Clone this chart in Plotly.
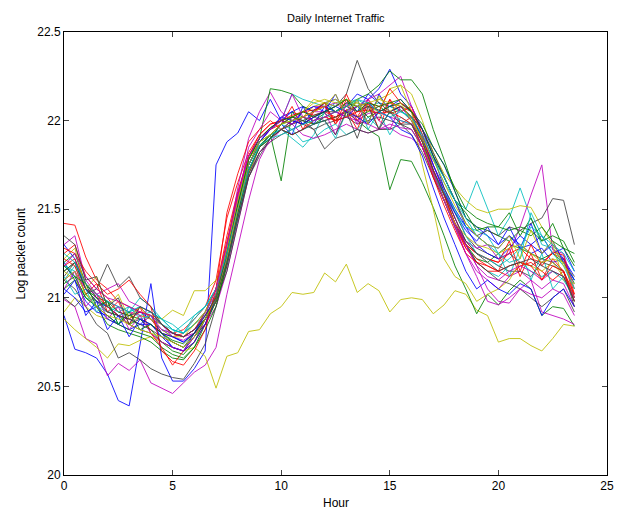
import plotly.graph_objects as go

hours = [i * 0.5 for i in range(48)]

day01 = [20.90,20.71,20.69,20.66,20.57,20.42,20.39,20.74, 21.08,20.66,20.53,20.53,20.60,20.70,21.75,21.88, 21.93,22.05,22.00,22.12,22.00,22.05,21.98,22.06, 22.10,22.08,22.12,22.05,22.15,22.10,22.08,22.12, 22.05,21.95,21.80,21.62,21.50,21.40,21.35,21.30, 21.28,21.35,21.30,21.25,21.28,21.20,21.22,21.10]
day02 = [21.20,21.25,21.08,21.00,20.95,20.90,20.85,20.88, 20.82,20.75,20.70,20.68,20.75,20.88,21.02,21.25, 21.52,21.75,21.86,21.92,21.66,22.05,22.02,22.00, 22.04,22.00,22.06,22.02,22.05,22.08,22.04,22.06, 22.00,21.88,21.70,21.58,21.42,21.30,21.22,21.20, 21.25,21.30,21.28,21.25,21.22,21.25,21.20,21.08]
day03 = [21.42,21.41,21.23,21.10,21.05,20.98,20.95,20.92, 20.90,20.85,20.80,20.82,20.88,20.95,21.10,21.45, 21.65,21.82,21.92,21.98,22.00,22.02,22.05,22.03, 22.05,22.02,22.06,22.08,22.10,22.08,22.10,22.08, 22.05,21.88,21.68,21.55,21.40,21.30,21.25,21.22, 21.20,21.25,21.28,21.22,21.20,21.25,21.22,21.00]
day04 = [21.10,21.18,21.05,20.98,20.95,20.90,20.92,20.95, 20.88,20.82,20.80,20.85,20.90,20.95,21.05,21.28, 21.55,21.78,21.90,21.95,22.00,22.15,22.12,22.10, 22.08,22.05,22.10,22.12,22.08,22.10,22.08,22.06, 22.00,21.92,21.78,21.65,21.55,21.50,21.66,21.50, 21.35,21.45,21.62,21.45,21.30,21.28,21.20,21.10]
day05 = [20.99,20.95,20.77,20.74,20.56,20.63,20.59,20.65, 20.52,20.49,20.46,20.52,20.58,20.62,20.72,21.02, 21.28,21.55,21.78,21.90,21.95,22.00,21.98,22.02, 22.00,22.02,22.05,22.00,22.04,22.05,22.02,22.00, 21.98,21.85,21.70,21.55,21.40,21.25,21.15,21.10, 21.05,21.12,21.15,21.10,21.05,21.10,21.08,20.95]
day06 = [20.88,20.82,20.77,20.72,20.66,20.74,20.73,20.76, 20.78,20.75,20.72,20.70,20.72,20.67,20.49,20.67, 20.69,20.81,20.82,20.91,20.95,21.03,21.02,21.03, 21.14,21.09,21.19,21.03,21.08,21.04,20.92,20.99, 21.00,20.99,20.91,20.96,21.04,21.02,20.93,20.90, 20.75,20.77,20.77,20.73,20.70,20.77,20.85,20.84]
day07 = [21.12,21.20,21.08,21.00,20.92,20.90,20.85,20.82, 20.80,20.75,20.72,20.70,20.78,20.88,20.98,21.18, 21.45,21.70,21.85,21.92,21.95,22.00,21.98,22.02, 22.05,22.08,22.15,22.34,22.18,22.10,22.05,22.08, 22.02,21.90,21.75,21.62,21.48,21.35,21.28,21.25, 21.22,21.25,21.20,21.18,21.22,21.20,21.15,21.00]
day08 = [21.20,21.10,20.98,20.92,20.90,20.85,20.82,20.85, 20.90,20.80,20.72,20.70,20.80,20.92,21.05,21.30, 21.58,21.80,21.90,21.95,22.02,22.05,22.08,22.05, 22.10,22.12,22.08,22.15,22.12,22.18,22.29,22.15, 22.08,21.95,21.80,21.68,21.55,21.40,21.30,21.25, 21.22,21.28,21.35,21.30,21.25,21.30,21.22,21.12]
day09 = [21.05,21.10,21.00,20.95,20.85,20.82,20.80,20.78, 20.75,20.70,20.66,20.65,20.72,20.85,20.98,21.22, 21.50,21.72,21.85,21.92,21.98,22.00,22.02,21.98, 22.00,22.02,22.05,22.00,21.95,21.91,21.61,21.78, 21.77,21.65,21.51,21.35,21.18,21.05,20.91,21.02, 20.96,21.04,21.10,21.05,20.90,20.95,20.94,20.84]
day10 = [21.25,21.30,21.12,21.05,21.00,20.92,20.90,20.95, 20.88,20.80,20.78,20.80,20.85,20.92,21.05,21.35, 21.60,21.80,21.90,21.96,22.00,21.98,22.02,22.05, 22.08,21.98,22.12,22.00,22.10,21.95,22.12,22.05, 22.08,21.92,21.70,21.55,21.40,21.28,21.22,21.18, 21.15,21.28,21.12,21.25,21.10,21.22,21.15,20.98]
day11 = [21.18,21.15,21.02,20.95,20.92,20.95,20.92,21.00, 20.95,20.88,20.82,20.80,20.90,20.95,21.05,21.25, 21.52,21.75,21.88,21.92,21.95,21.90,21.85,21.92, 22.05,22.10,22.12,22.08,22.10,22.05,22.08,22.05, 22.02,21.90,21.72,21.55,21.40,21.30,21.20,21.15, 21.12,21.18,21.20,21.15,21.12,21.15,21.10,21.00]
day12 = [21.30,21.35,21.10,21.02,20.98,20.95,20.92,20.90, 20.88,20.85,20.78,20.76,20.80,20.88,21.02,21.28, 21.62,21.90,22.05,22.16,22.05,22.00,22.05,22.08, 22.08,22.10,22.05,22.08,22.12,22.15,22.20,22.25, 22.08,21.95,21.75,21.60,21.45,21.32,21.28,21.30, 21.22,21.25,21.40,21.58,21.75,21.27,21.25,21.05]
day13 = [20.92,21.00,20.95,20.90,20.88,20.85,20.90,20.92, 20.90,20.88,20.93,20.90,21.04,21.04,21.10,21.25, 21.50,21.70,21.85,21.92,21.98,22.02,22.05,22.12, 22.10,22.12,22.08,22.10,22.05,22.12,22.15,22.20, 22.15,22.00,21.82,21.70,21.62,21.55,21.50,21.48, 21.50,21.50,21.52,21.51,21.40,21.30,21.10,21.08]
day14 = [21.10,21.05,20.95,20.85,20.80,20.66,20.69,20.65, 20.60,20.57,20.55,20.54,20.63,20.74,20.95,21.18, 21.45,21.70,21.82,21.88,21.92,21.95,21.98,21.95, 21.98,22.00,22.02,21.98,22.00,22.02,22.00,21.98, 21.95,21.85,21.70,21.55,21.42,21.32,21.25,21.22, 21.18,21.15,21.15,21.12,21.20,21.18,21.15,20.95]
day15 = [21.05,21.00,20.92,20.95,20.88,20.85,20.90,20.92, 20.88,20.82,20.78,20.75,20.80,20.88,20.98,21.20, 21.48,21.72,21.85,21.90,21.98,21.92,22.08,21.98, 22.08,22.05,22.02,22.08,22.10,22.05,22.08,22.10, 22.05,21.95,21.85,21.75,21.60,21.45,21.40,21.35, 21.30,21.35,21.28,21.30,21.35,21.25,21.28,21.15]
day16 = [21.15,21.20,21.05,21.00,20.98,20.92,20.90,20.88, 20.85,20.80,20.75,20.72,20.78,20.85,20.98,21.22, 21.52,21.78,21.90,22.18,22.17,22.15,22.08,22.05, 22.10,22.05,22.08,22.12,22.15,22.20,22.28,22.23, 22.23,22.15,21.95,21.78,21.60,21.45,21.40,21.38, 21.35,21.32,21.38,21.35,21.40,21.32,21.28,21.25]
day17 = [21.22,21.18,21.02,21.08,20.92,20.98,20.85,20.95, 20.80,20.72,20.62,20.70,20.75,20.85,21.02,21.28, 21.55,21.78,21.88,21.95,21.98,22.08,21.95,22.05, 22.10,21.98,22.06,21.95,22.10,22.00,22.12,21.98, 22.02,21.88,21.72,21.58,21.42,21.28,21.20,21.15, 21.15,21.12,21.18,21.20,21.15,21.10,21.15,21.02]
day18 = [21.20,21.12,21.00,20.98,20.95,20.92,20.95,20.90, 20.92,20.88,20.85,20.80,20.85,20.90,21.00,21.20, 21.45,21.72,21.85,21.92,21.98,21.95,21.88,21.90, 21.95,21.98,21.92,21.95,22.02,21.96,22.05,22.00, 21.98,21.85,21.70,21.58,21.48,21.40,21.38,21.35, 21.25,21.12,21.28,21.10,21.25,21.05,21.12,20.98]
day19 = [21.10,21.15,21.05,21.02,21.05,21.08,20.98,20.95, 20.92,20.85,20.80,20.78,20.80,20.85,20.95,21.15, 21.42,21.68,21.82,21.88,21.95,21.98,21.92,21.90, 21.92,21.95,21.98,21.95,21.93,21.95,21.96,21.92, 21.90,21.85,21.72,21.60,21.45,21.30,21.18,21.05, 20.98,20.97,21.05,21.10,20.92,20.90,20.88,20.85]
day20 = [21.15,21.10,21.02,20.98,20.95,20.90,20.85,20.90, 20.88,20.85,20.80,20.78,20.82,20.88,20.98,21.20, 21.48,21.72,21.85,21.90,21.95,21.98,22.02,22.08, 22.10,22.08,22.12,22.10,22.08,22.05,22.18,22.20, 22.05,21.75,21.50,21.22,21.12,21.08,20.98,21.02, 21.05,21.10,21.20,21.18,21.15,21.20,21.12,21.00]
day21 = [21.00,20.95,21.02,21.05,21.19,21.06,21.12,21.00, 20.95,20.85,20.80,20.78,20.82,20.88,20.98,21.15, 21.42,21.68,21.80,21.90,21.95,21.98,22.00,21.95, 21.84,21.90,21.92,21.95,21.93,21.95,21.95,21.98, 21.92,21.82,21.68,21.55,21.42,21.30,21.20,21.15, 21.10,21.08,21.05,21.00,20.95,21.00,21.05,20.92]
day22 = [21.30,21.22,21.05,20.98,20.95,20.90,20.88,20.85, 20.85,20.78,20.72,20.70,20.75,20.85,21.00,21.25, 21.52,21.75,21.88,21.95,22.00,21.98,22.05,22.08, 22.05,22.15,22.02,22.12,21.98,22.15,22.05,22.08, 22.02,21.90,21.75,21.60,21.48,21.38,21.32,21.40, 21.30,21.40,21.28,21.42,21.25,21.32,21.20,21.10]
day23 = [21.08,21.12,21.00,20.95,20.90,20.85,20.82,20.80, 20.78,20.72,20.68,20.66,20.72,20.82,20.95,21.20, 21.48,21.72,21.85,21.90,21.98,22.02,22.00,21.98, 22.02,22.05,22.10,22.08,22.02,22.05,22.08,22.10, 22.05,21.95,21.80,21.68,21.55,21.48,21.38,21.40, 21.40,21.48,21.35,21.45,21.32,21.42,21.28,21.18]
day24 = [21.18,21.22,21.08,21.02,20.95,20.90,20.88,20.92, 20.90,20.85,20.80,20.78,20.82,20.92,21.05,21.32, 21.58,21.80,21.92,21.98,22.00,22.03,22.05,22.06, 22.08,22.00,22.15,22.02,22.12,22.05,22.18,22.10, 22.06,21.92,21.72,21.58,21.42,21.30,21.25,21.22, 21.20,21.32,21.15,21.30,21.18,21.26,21.24,21.02]
day25 = [21.12,21.02,21.05,20.92,20.98,20.85,20.95,20.88, 20.90,20.85,20.82,20.80,20.85,20.92,21.02,21.22, 21.50,21.75,21.88,21.92,21.95,21.92,21.95,21.98, 22.00,21.90,22.05,22.12,21.95,22.05,21.92,22.02, 21.98,21.85,21.70,21.60,21.50,21.35,21.25,21.22, 21.18,21.22,21.28,21.40,21.35,21.30,21.25,21.15]
day26 = [21.05,21.15,20.95,21.02,20.88,20.95,20.82,20.90, 20.80,20.75,20.72,20.70,20.78,20.88,21.00,21.25, 21.55,21.85,21.95,22.05,22.00,21.98,22.02,22.05, 22.05,21.92,22.10,21.98,22.12,22.00,21.95,22.08, 22.00,21.85,21.70,21.55,21.42,21.30,21.18,21.12, 21.10,21.15,21.18,21.15,21.10,21.15,21.12,21.00]
day27 = [21.22,21.28,21.05,21.12,20.95,21.02,20.88,20.95, 20.88,20.82,20.78,20.78,20.85,20.92,21.05,21.28, 21.55,21.78,21.88,21.92,21.98,22.02,22.05,22.10, 22.12,22.10,22.12,22.08,22.10,22.12,22.10,22.08, 22.02,21.88,21.70,21.55,21.42,21.35,21.30,21.28, 21.25,21.28,21.30,21.25,21.20,21.22,21.20,21.05]
day28 = [21.15,21.20,21.05,20.98,20.92,20.90,20.88,20.85, 20.82,20.78,20.75,20.72,20.80,20.88,21.00,21.22, 21.48,21.72,21.85,21.92,21.98,22.02,22.00,22.03, 22.05,22.05,22.08,22.05,22.08,22.06,22.05,22.08, 22.02,21.95,21.82,21.68,21.55,21.42,21.35,21.38, 21.35,21.40,21.38,21.42,21.45,21.56,21.55,21.30]
day29 = [21.02,21.10,20.90,20.98,20.82,20.90,20.78,20.88, 20.85,20.80,20.78,20.75,20.80,20.90,21.00,21.22, 21.50,21.75,21.88,21.95,22.02,22.00,21.98,22.02, 22.05,22.08,22.05,22.02,21.98,22.05,22.02,21.95, 21.92,21.80,21.62,21.45,21.30,21.15,21.05,21.10, 21.05,21.02,21.08,21.05,20.90,21.00,21.05,20.95]
day30 = [21.18,21.12,21.08,20.95,20.98,20.85,20.92,20.82, 20.85,20.80,20.76,20.74,20.80,20.88,21.00,21.25, 21.52,21.78,21.90,21.96,22.00,22.02,22.05,22.02, 22.05,22.08,22.12,22.05,22.10,22.08,22.10,22.12, 22.05,21.98,21.85,21.75,21.62,21.50,21.45,21.42, 21.40,21.38,21.40,21.38,21.32,21.35,21.32,21.20]
day31 = [21.28,21.25,21.15,21.08,21.02,21.05,21.10,21.02, 20.95,20.70,20.64,20.62,20.70,20.82,21.05,21.48, 21.70,21.88,21.95,22.00,21.95,21.92,21.95,22.00, 22.02,22.00,22.02,22.05,22.06,22.04,22.05,22.02, 21.98,21.85,21.68,21.52,21.38,21.25,21.20,21.18, 21.15,21.18,21.20,21.18,21.10,21.18,21.15,20.98]
day32 = [21.25,21.20,21.08,21.02,20.98,20.95,20.92,20.95, 20.92,20.88,20.82,20.80,20.88,20.95,21.05,21.25, 21.50,21.72,21.86,21.90,21.92,21.95,21.98,22.00, 22.02,22.05,22.08,22.12,22.10,22.05,22.02,22.05, 22.02,21.92,21.78,21.68,21.55,21.45,21.35,21.30, 21.25,21.20,21.22,21.48,21.35,21.25,21.18,21.05]
day33 = [21.18,21.25,21.12,21.05,21.00,20.98,20.95,20.92, 20.90,20.82,20.80,20.78,20.82,20.90,21.05,21.30, 21.58,21.80,21.90,21.95,22.00,22.15,22.02,22.00, 22.02,22.05,22.02,22.00,21.98,21.95,21.98,21.96, 21.95,21.85,21.70,21.55,21.40,21.25,21.12,20.98, 20.96,21.00,21.05,21.02,21.00,21.05,21.02,20.90]
day34 = [21.10,21.15,21.02,20.95,20.90,20.88,20.85,20.82, 20.80,20.78,20.75,20.72,20.78,20.88,21.00,21.22, 21.50,21.75,21.88,21.92,21.98,22.00,22.02,22.05, 22.08,22.15,22.02,22.12,21.98,22.14,22.05,22.10, 22.00,21.90,21.78,21.65,21.52,21.42,21.35,21.30, 21.28,21.35,21.22,21.38,21.25,21.32,21.18,21.12]
day35 = [21.35,21.30,21.10,21.12,20.95,21.00,20.85,20.95, 20.92,20.85,20.80,20.78,20.82,20.90,21.00,21.20, 21.45,21.68,21.82,21.90,21.95,21.92,21.95,21.98, 22.00,21.92,22.05,21.90,22.08,21.95,22.05,21.98, 21.98,21.88,21.72,21.58,21.45,21.32,21.25,21.20, 21.15,21.18,21.20,21.22,21.18,21.15,21.12,20.98]

days = [day01, day02, day03, day04, day05, day06, day07, day08, day09, day10,
        day11, day12, day13, day14, day15, day16, day17, day18, day19, day20,
        day21, day22, day23, day24, day25, day26, day27, day28, day29, day30,
        day31, day32, day33, day34, day35]

colors = ["rgb(0,0,255)", "rgb(0,128,0)", "rgb(255,0,0)", "rgb(0,191,191)",
          "rgb(191,0,191)", "rgb(191,191,0)", "rgb(64,64,64)"]

x_ticks = [0, 5, 10, 15, 20, 25]
y_ticks = [20, 20.5, 21, 21.5, 22, 22.5]
y_tick_text = ["20", "20.5", "21", "21.5", "22", "22.5"]

fig = go.Figure()
for i, d in enumerate(days):
    fig.add_trace(go.Scatter(x=hours, y=d, mode="lines",
                             line=dict(color=colors[i % 7], width=1),
                             opacity=0.85, showlegend=False, hoverinfo="skip"))

font = "Liberation Sans, Arial, sans-serif"
fig.update_layout(
    width=618, height=511,
    margin=dict(l=64, r=4, t=32, b=36),
    paper_bgcolor="white", plot_bgcolor="white",
    font=dict(family=font, size=12, color="black"),
    showlegend=False,
    xaxis=dict(range=[0, 25], tickvals=x_ticks, ticks="inside", ticklen=5,
               showline=True, linecolor="black", linewidth=1, mirror="allticks",
               showgrid=False, zeroline=False, tickfont=dict(size=12),
               ticklabeloverflow="allow"),
    yaxis=dict(range=[20, 22.5], tickvals=y_ticks, ticktext=y_tick_text,
               ticks="inside", ticklen=5,
               showline=True, linecolor="black", linewidth=1, mirror="allticks",
               showgrid=False, zeroline=False, tickfont=dict(size=12)),
    annotations=[
        dict(text="Daily Internet Traffic", xref="paper", yref="paper", x=0.5, y=1,
             yshift=14, showarrow=False, font=dict(size=11), xanchor="center", yanchor="middle"),
        dict(text="Hour", xref="paper", yref="paper", x=0.5, y=0, yshift=-28,
             showarrow=False, font=dict(size=12), xanchor="center", yanchor="middle"),
        dict(text="Log packet count", xref="paper", yref="paper", x=0, y=0.5, xshift=-44,
             textangle=-90, showarrow=False, font=dict(size=12), xanchor="center", yanchor="middle"),
    ],
)

fig.write_html("out.html")
